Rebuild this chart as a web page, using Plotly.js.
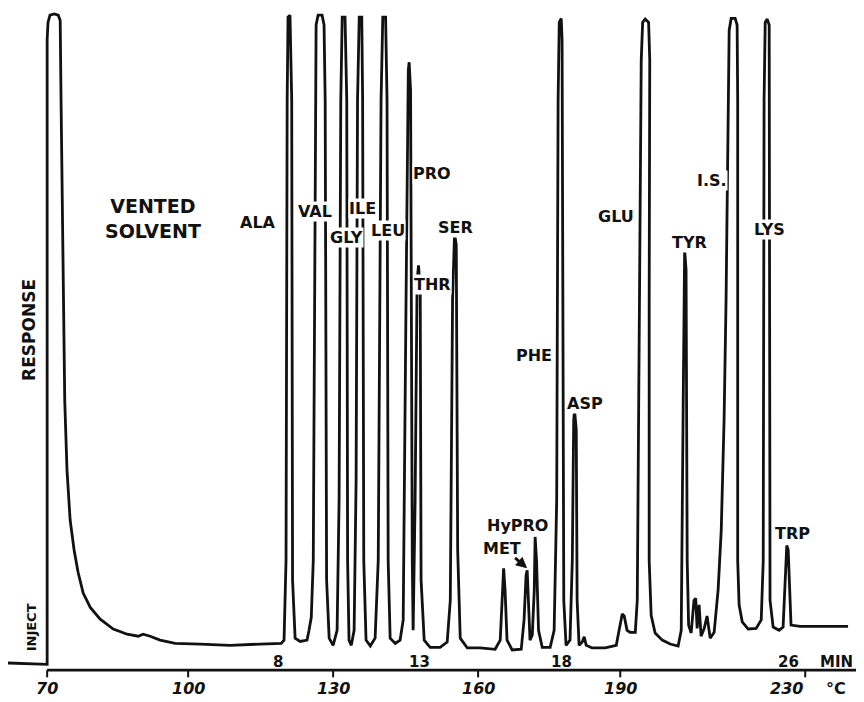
<!DOCTYPE html>
<html><head><meta charset="utf-8">
<script src="https://cdn.plot.ly/plotly-3.0.1.min.js"></script>
<style>html,body{margin:0;padding:0;background:#fff}#chart{width:864px;height:702px}</style>
</head><body><div id="chart"></div>
<script>
// Chromatogram trace: retention time (min) and detector response (% full scale)
const retentionMin = [
  -1.52,-0.14,-0.14,-0.11,-0.04,0.11,0.25,0.32,0.35,0.39,0.42,0.48,0.56,0.67,0.81,0.95,1.13,1.38,1.73,2.19,
  2.68,3.07,3.24,3.49,3.84,4.37,5.25,6.31,7.37,8.11,
  8.21,8.28,8.32,8.35,8.42,8.48,8.51,8.60,8.78,9.02,9.09,9.17,
  9.24,9.31,9.34,9.41,9.55,9.62,9.66,9.71,9.80,9.94,
  10.08,10.15,10.21,10.26,10.36,10.42,10.45,10.50,10.58,
  10.68,10.75,10.80,10.86,10.95,10.98,11.02,11.10,11.25,
  11.42,11.53,11.63,11.69,11.79,11.84,11.88,11.95,12.13,12.30,
  12.41,12.51,12.59,12.62,12.67,12.73,12.76,
  12.83,12.90,12.95,13.01,13.04,13.15,13.36,13.71,13.96,
  14.07,14.15,14.22,14.28,14.33,14.42,14.67,15.12,15.65,
  15.83,15.90,15.95,16.00,16.07,16.25,16.57,16.67,16.74,16.78,16.83,16.88,16.96,
  17.03,17.06,17.11,17.18,17.31,17.59,
  17.73,17.82,17.87,17.91,17.98,18.01,18.03,18.07,18.15,18.29,
  18.37,18.42,18.45,18.51,18.54,18.61,18.72,18.79,18.86,19.07,19.53,19.92,20.02,20.13,20.20,20.30,20.41,20.59,
  20.66,20.73,20.80,20.85,20.94,21.06,21.10,21.08,21.08,21.15,21.29,21.54,21.82,22.10,
  22.21,22.28,22.33,22.38,22.42,22.47,22.56,22.66,22.72,22.77,22.84,22.91,23.02,23.12,23.23,23.37,
  23.51,23.62,23.72,23.79,23.86,23.90,23.97,24.11,24.18,24.20,24.20,24.25,24.36,24.57,24.85,25.03,
  25.10,25.13,25.17,25.24,25.31,25.33,25.34,25.45,25.66,25.80,
  25.87,25.93,25.98,26.03,26.08,26.40,26.93,27.46,28.09
];
const response = [
  1.1,0.9,96.5,99.2,100.3,100.5,100.3,99.5,87.3,72.0,56.7,41.3,30.6,23.0,18.4,15.0,11.8,9.6,7.8,6.3,
  5.5,5.2,5.5,5.2,4.6,4.1,4.0,3.8,4.0,4.1,
  4.6,16.8,87.3,100.0,100.3,87.3,13.8,4.9,4.4,4.6,6.1,8.1,
  16.8,87.3,98.8,100.3,100.3,98.8,87.3,13.8,4.9,3.8,
  6.1,26.0,87.3,100.0,100.0,87.3,16.8,4.6,3.8,
  6.1,29.1,87.3,100.0,100.0,87.3,16.8,4.6,3.7,
  4.9,16.8,87.3,100.0,100.0,87.3,16.8,4.9,4.1,4.6,
  7.7,56.7,91.9,93.1,88.8,16.8,6.1,
  26.0,59.7,62.0,58.2,13.8,4.6,3.5,3.5,4.3,
  10.7,56.7,66.9,65.1,18.4,4.9,3.4,3.4,3.2,
  4.6,12.3,15.6,12.3,4.6,3.1,3.2,7.7,14.5,15.3,10.7,4.6,5.4,
  12.3,20.4,16.8,6.1,3.5,3.5,
  6.1,26.0,87.3,99.2,99.8,96.5,56.7,10.7,3.8,4.6,
  16.8,38.3,39.8,36.8,10.7,3.8,4.3,5.1,3.8,3.4,3.4,3.8,6.1,8.6,8.3,6.1,5.8,5.8,
  10.7,56.7,93.4,99.2,99.7,99.2,93.4,56.7,16.8,8.4,5.7,4.6,4.0,3.7,
  6.1,41.3,64.3,61.3,16.8,6.9,5.7,10.7,11.0,6.4,10.0,5.2,6.4,8.3,4.9,5.8,
  12.3,21.4,38.3,56.7,87.3,98.0,99.8,99.8,98.8,87.3,16.8,10.0,7.4,6.3,6.4,7.7,
  16.8,87.3,99.2,99.7,98.8,56.7,10.7,6.6,6.1,6.6,
  12.3,19.1,18.4,10.7,6.9,6.7,6.7,6.6,6.7
];

// Peak labels
const peakNames     = ['ALA','VAL','GLY','ILE','LEU','PRO','THR','SER','PHE','ASP','HyPRO','MET','GLU','TYR','I.S.','LYS','TRP'];
const peakLabelMin  = [7.30, 9.31, 10.40, 10.96, 11.88, 13.43, 13.43, 14.24, 17.02, 18.82, 16.43, 15.90, 19.92, 22.49, 23.30, 25.31, 26.12];
const peakLabelResp = [68.6, 70.3, 66.2, 70.75, 67.4, 76.0, 59.0, 67.8, 48.2, 40.9, 22.2, 18.7, 69.5, 65.5, 75.0, 67.5, 21.0];

// Axis labels
const timeTicks = [8, 13, 18, 26];
const tempTicks = [70, 100, 130, 160, 190, 230];
const tempTickMin = [-0.14, 4.83, 9.94, 15.05, 20.06, 26.58];

const FONT = 'DejaVu Sans, Liberation Sans, sans-serif';
const ink = '#111111';

const annotations = [];
peakNames.forEach((n, i) => {
  annotations.push({
    x: peakLabelMin[i], y: peakLabelResp[i], xref: 'x', yref: 'y',
    text: '<b>' + n + '</b>', showarrow: false, xanchor: 'center', yanchor: 'middle',
    bgcolor: 'rgba(255,255,255,1)', borderpad: 0,
    font: {family: FONT, size: 16, color: ink}
  });
});
// MET pointer
annotations.push({
  x: 16.78, y: 15.6, xref: 'x', yref: 'y', ax: 16.30, ay: 17.4, axref: 'x', ayref: 'y',
  text: '', showarrow: true, arrowhead: 2, arrowsize: 0.8, arrowwidth: 2.8, arrowcolor: ink
});
annotations.push({x: 3.6, y: 69.2, xref: 'x', yref: 'y', text: '<b>VENTED<br>SOLVENT</b>', showarrow: false,
  align: 'center', font: {family: FONT, size: 19, color: ink}});
annotations.push({x: -0.78, y: 52.1, xref: 'x', yref: 'y', text: '<b>RESPONSE</b>', showarrow: false,
  textangle: -90, font: {family: FONT, size: 17, color: ink}});
annotations.push({x: -0.70, y: 6.6, xref: 'x', yref: 'y', text: '<b>INJECT</b>', showarrow: false,
  textangle: -90, font: {family: FONT, size: 13, color: ink}});
timeTicks.forEach(t => {
  annotations.push({x: t, y: 1.3, xref: 'x', yref: 'y', text: '<b>' + t + '</b>', showarrow: false,
    font: {family: FONT, size: 15, color: ink}});
});
annotations.push({x: 27.7, y: 1.3, xref: 'x', yref: 'y', text: '<b>MIN</b>', showarrow: false,
  font: {family: FONT, size: 15, color: ink}});
tempTicks.forEach((c, i) => {
  const last = i === tempTicks.length - 1;
  annotations.push({x: tempTickMin[i], y: -0.016, xref: 'x', yref: 'paper', text: '<b><i>' + c + '</i></b>',
    showarrow: false, xanchor: last ? 'right' : 'center', yanchor: 'middle',
    font: {family: FONT, size: 16, color: ink}});
});
annotations.push({x: 27.67, y: -0.016, xref: 'x', yref: 'paper', text: '<b>°C</b>', showarrow: false,
  yanchor: 'middle', font: {family: FONT, size: 16, color: ink}});

const shapes = [{type: 'line', xref: 'x', yref: 'y', x0: -0.14, x1: 28.37, y0: 0, y1: 0,
  line: {color: ink, width: 2.6}}];
tempTickMin.forEach(t => shapes.push({type: 'line', xref: 'x', yref: 'y', x0: t, x1: t, y0: 0, y1: -1.1,
  line: {color: ink, width: 2}}));

Plotly.newPlot('chart', [{
  x: retentionMin, y: response, type: 'scatter', mode: 'lines',
  line: {color: ink, width: 2.8, shape: 'linear'}, hoverinfo: 'skip'
}], {
  width: 864, height: 702,
  margin: {l: 8, r: 8, t: 8, b: 24},
  paper_bgcolor: '#ffffff', plot_bgcolor: '#ffffff',
  showlegend: false,
  xaxis: {range: [-1.52, 28.37], visible: false, fixedrange: true},
  yaxis: {range: [-1.2, 101.4], visible: false, fixedrange: true},
  annotations: annotations, shapes: shapes
}, {displayModeBar: false, staticPlot: true});
</script>
</body></html>
